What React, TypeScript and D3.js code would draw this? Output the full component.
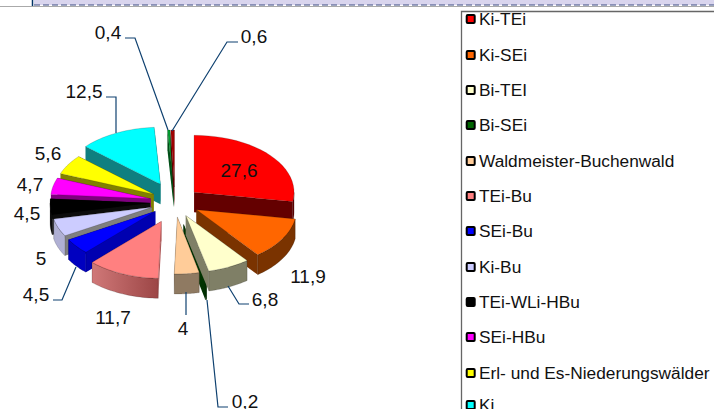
import React from "react";
import * as d3 from "d3";

const categories = ["Ki-TEi","Ki-SEi","Bi-TEI","Bi-SEi","Waldmeister-Buchenwald","TEi-Bu","SEi-Bu","Ki-Bu","TEi-WLi-HBu","SEi-HBu","Erl- und Es-Niederungswälder","Ki","Other A","Other B"];
const legendCount = 12;
const values = [27.6,11.9,6.8,0.2,4,11.7,4.5,5,4.5,4.7,5.6,12.5,0.4,0.6];
const valueLabels = ["27,6","11,9","6,8","0,2","4","11,7","4,5","5","4,5","4,7","5,6","12,5","0,4","0,6"];
const topColors = ["#ff0000","#ff6600","#ffffcc","#006400","#ffcc99","#ff8080","#0000ff","#ccccff","#000000","#ff00ff","#ffff00","#00ffff","#00a030","#a00000"];
const wallColors = ["#640000","#7a3300","#7f7f66","#003200","#8f7a62","url(#salmonWall)","#0000c0","#b0b0d4","#0c0c0c","#800080","#808000","#0f7f80","#005018","#600000"];
const edgeColors = ["#640000","#7a3300","#7f7f66","#003200","#8f7a62","#b86060","#0000b0","#7f7f7f","#0c0c0c","#800080","#808000","#0f7f80","#005018","#600000"];
const explodeBy = [25,25,25,38,25,35,25,25,25,25,25,33,25,25];
const labelPos = [[239,170],[308,276],[265,299],[245,401],[183,328],[113,317],[36,294],[41,258],[27,213],[30,184],[48,153],[84,91],[108,32],[254,36]];
const leaders = [
  [[125,38],[135,38],[168,130]],
  [[238,42],[227,42],[172,131]],
  [[106,97],[116,97],[116,133]],
  [[53,300],[62,300],[76,267]],
  [[186,292],[186,315]],
  [[249,304],[239,304],[228,286]],
  [[228,407],[218,407],[207,300]],
];
const legendY = [19,55,90,125,161,196,231,267,302,337,373,405];

const cx = 175, cy = 202, rx = 100, ry = 57, depth = 20, tilt = 0.6;
const font = "'Liberation Sans', Arial, sans-serif";

const line = d3.line<number[]>().x(d => d[0]).y(d => d[1]);

function App() {
  const arcs = d3.pie<number>().sort(null).value(d => d)(values);
  const slices = arcs.map((a, i) => {
    const mid = (a.startAngle + a.endAngle) / 2;
    const ox = cx + explodeBy[i] * Math.sin(mid);
    const oy = cy - explodeBy[i] * tilt * Math.cos(mid);
    const pt = (t: number, dz = 0) => [ox + rx * Math.sin(t), oy - ry * Math.cos(t) + dz];
    const ang = d3.range(0, 25).map(k => a.startAngle + (a.endAngle - a.startAngle) * k / 24);
    const top = [[ox, oy], ...ang.map(t => pt(t))];
    const startWall = [[ox, oy], pt(a.startAngle), pt(a.startAngle, depth), [ox, oy + depth]];
    const endWall = [[ox, oy], pt(a.endAngle), pt(a.endAngle, depth), [ox, oy + depth]];
    const lo = Math.max(a.startAngle, Math.PI / 2), hi = Math.min(a.endAngle, 1.5 * Math.PI);
    let outer: number[][] | null = null;
    if (hi > lo) {
      const f = d3.range(0, 25).map(k => lo + (hi - lo) * k / 24);
      outer = [...f.map(t => pt(t)), ...f.slice().reverse().map(t => pt(t, depth))];
    }
    return { i, mid, top, startWall, endWall, outer };
  });
  // thin slivers go first so their neighbours overlap them
  const order = slices.slice().sort((p, q) =>
    (values[p.i] < 1 ? 2 : Math.cos(p.mid)) > (values[q.i] < 1 ? 2 : Math.cos(q.mid)) ? -1 : 1);
  return (
    <svg width={714} height={409} style={{ position: "absolute", left: 0, top: 0, fontFamily: font }}>
      <defs>
        <linearGradient id="salmonWall" x1="0" x2="1" y1="0" y2="0">
          <stop offset="0" stopColor="#d07878" />
          <stop offset="1" stopColor="#9c4646" />
        </linearGradient>
      </defs>
      <rect x={0} y={0} width={714} height={409} fill="#fff" />
      <rect x={34} y={0} width={680} height={5} fill="#d9d5ee" />
      <line x1={34} x2={714} y1={5} y2={5} stroke="#3a4a80" strokeDasharray="6 3" />
      <line x1={0} x2={714} y1={6.5} y2={6.5} stroke="#aaa" />
      <line x1={32.5} x2={32.5} y1={0} y2={6} stroke="#003366" strokeWidth={1.5} />
      <path d="M714,11.5H461.5V409" fill="none" stroke="#666" strokeWidth={1.3} />
      {order.map(s => (
        <g key={s.i}>
          <path d={line(s.startWall) + "Z"} fill={edgeColors[s.i]} />
          <path d={line(s.endWall) + "Z"} fill={edgeColors[s.i]} />
          {s.outer && <path d={line(s.outer) + "Z"} fill={wallColors[s.i]} stroke="#00000055" strokeWidth={0.5} />}
          <path d={line(s.top) + "Z"} fill={topColors[s.i]} stroke="#00000055" strokeWidth={0.5} />
        </g>
      ))}
      {leaders.map((l, i) => (
        <path key={i} d={line(l)!} fill="none" stroke="#0f4170" strokeWidth={1.2} />
      ))}
      {valueLabels.map((t, i) => (
        <text key={i} x={labelPos[i][0]} y={labelPos[i][1]} textAnchor="middle" dominantBaseline="central" fontSize={19} fill="#111">{t}</text>
      ))}
      {categories.slice(0, legendCount).map((c, i) => (
        <g key={c}>
          <rect x={466.7} y={legendY[i] - 4} width={8} height={8} rx={1} fill={topColors[i]} stroke="#000" strokeWidth={2} />
          <text x={479} y={legendY[i]} dominantBaseline="central" fontSize={17.3} fill="#111">{c}</text>
        </g>
      ))}
    </svg>
  );
}
export default App;
